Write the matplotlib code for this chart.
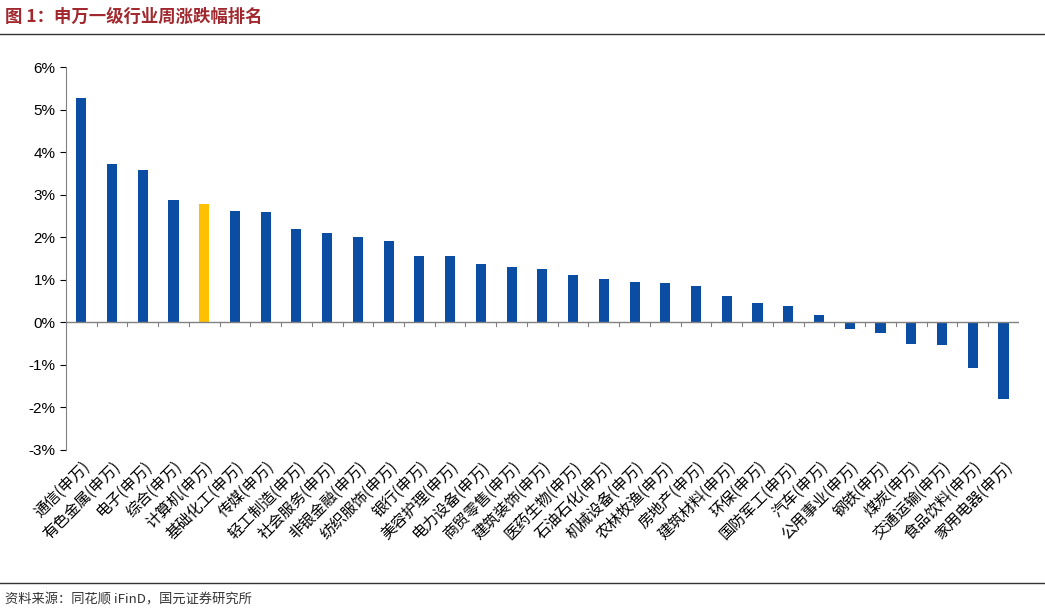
import matplotlib.pyplot as plt
import numpy as np

plt.rcParams['font.family'] = ['Noto Sans CJK SC', 'DejaVu Sans']

industries = ['通信', '有色金属', '电子', '综合', '计算机', '基础化工', '传媒', '轻工制造',
              '社会服务', '非银金融', '纺织服饰', '银行', '美容护理', '电力设备', '商贸零售',
              '建筑装饰', '医药生物', '石油石化', '机械设备', '农林牧渔', '房地产', '建筑材料',
              '环保', '国防军工', '汽车', '公用事业', '钢铁', '煤炭', '交通运输', '食品饮料', '家用电器']
changes = [5.28, 3.73, 3.58, 2.88, 2.79, 2.61, 2.59, 2.19, 2.09, 2.00, 1.91, 1.57, 1.57,
           1.38, 1.29, 1.26, 1.12, 1.02, 0.94, 0.92, 0.86, 0.63, 0.46, 0.39, 0.17,
           -0.15, -0.25, -0.52, -0.54, -1.07, -1.80]
highlight = '计算机'

labels = [f'{n}(申万)' for n in industries]
colors = ['#FFC000' if n == highlight else '#0B4DA2' for n in industries]

fig = plt.figure(figsize=(10.45, 6.12), dpi=100)
ax = fig.add_axes([0.063, 0.265, 0.912, 0.625])
x = np.arange(len(industries))
ax.bar(x, changes, width=0.33, color=colors, zorder=2)

ax.set_ylim(-3, 6)
ax.set_xlim(-0.5, len(industries) - 0.5)
ax.set_yticks(range(-3, 7))
ax.set_yticklabels([f'{v}%' for v in range(-3, 7)], fontsize=11, family=['Arial', 'Liberation Sans', 'DejaVu Sans'])
ax.set_xticks(x)
ax.set_xticklabels(labels, rotation=45, ha='right', rotation_mode='anchor', fontsize=11)
ax.tick_params(axis='x', length=0, pad=6)
ax.tick_params(axis='y', length=4, direction='out')
for s in ['top', 'right', 'bottom']:
    ax.spines[s].set_visible(False)
ax.spines['left'].set_color('#808080')
ax.axhline(0, color='#808080', lw=1, zorder=3)
for xi in np.arange(-0.5, len(industries) + 0.5):
    ax.plot([xi, xi], [0, -0.08], color='#808080', lw=0.8, zorder=3)

fig.text(0.005, 0.972, '图 1：申万一级行业周涨跌幅排名', fontsize=12.5, fontweight='bold',
         color='#A0282E', va='center')
fig.add_artist(plt.Line2D([0.0, 1.0], [0.945, 0.945], color='#333333', lw=1))
fig.add_artist(plt.Line2D([0.0, 1.0], [0.047, 0.047], color='#333333', lw=1))
fig.text(0.005, 0.02, '资料来源：同花顺 iFinD，国元证券研究所', fontsize=9.5, color='#333333', va='center')

fig.savefig('out.png', dpi=100)
